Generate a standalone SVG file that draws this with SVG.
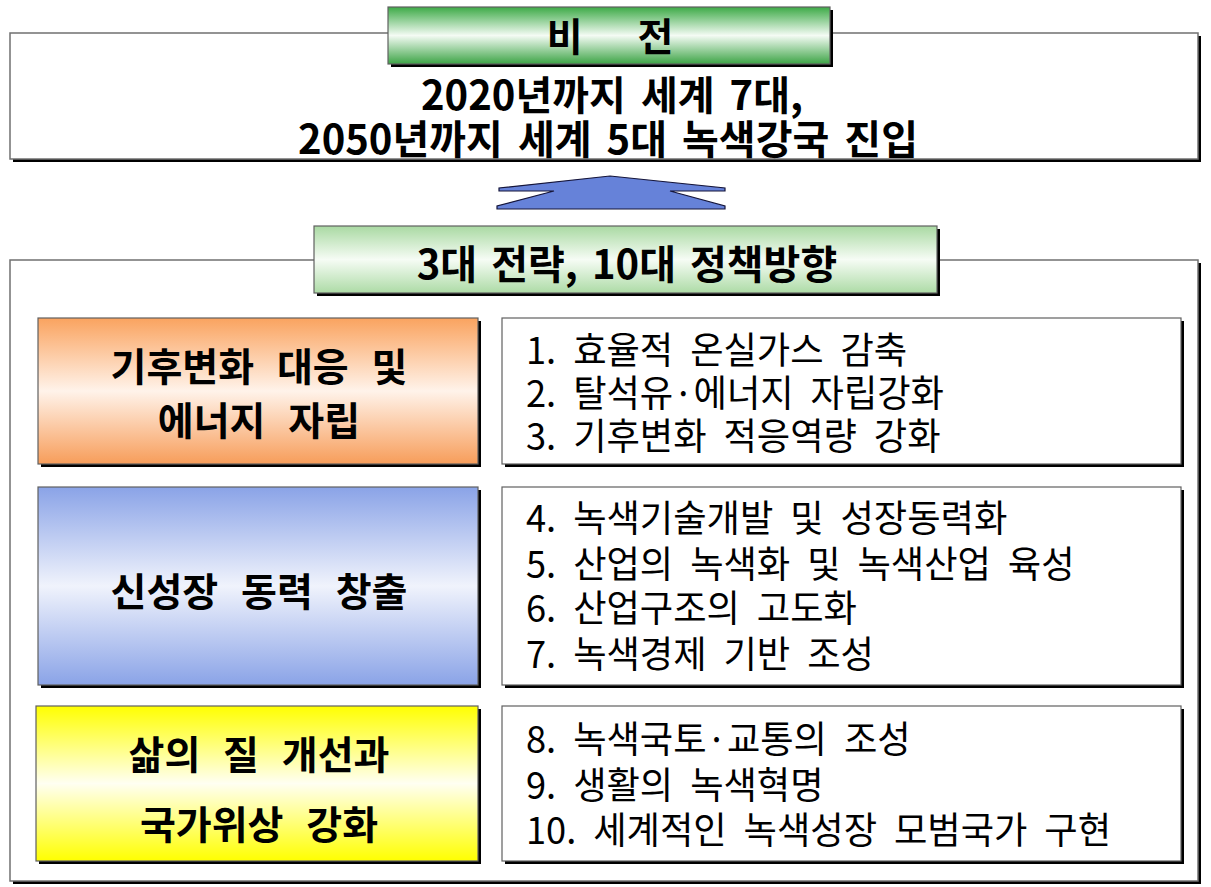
<svg xmlns="http://www.w3.org/2000/svg" width="1211" height="887" viewBox="0 0 1211 887">
<defs>
<linearGradient id="gGreen" x1="0" y1="0" x2="0" y2="1">
<stop offset="0" stop-color="#3daa47"/><stop offset="0.5" stop-color="#f4fbf4"/><stop offset="1" stop-color="#3da446"/>
</linearGradient>
<linearGradient id="gLight" x1="0" y1="0" x2="0" y2="1">
<stop offset="0" stop-color="#a9d9a2"/><stop offset="0.5" stop-color="#f6fcf5"/><stop offset="1" stop-color="#addba6"/>
</linearGradient>
<linearGradient id="gOrange" x1="0" y1="0" x2="0" y2="1">
<stop offset="0" stop-color="#faa35f"/><stop offset="0.5" stop-color="#fff3ea"/><stop offset="1" stop-color="#f79d5a"/>
</linearGradient>
<linearGradient id="gBlue" x1="0" y1="0" x2="0" y2="1">
<stop offset="0" stop-color="#8aa3e7"/><stop offset="0.5" stop-color="#f0f3fc"/><stop offset="1" stop-color="#8aa3e7"/>
</linearGradient>
<linearGradient id="gYellow" x1="0" y1="0" x2="0" y2="1">
<stop offset="0" stop-color="#ffff00"/><stop offset="0.5" stop-color="#fffff2"/><stop offset="1" stop-color="#ffff00"/>
</linearGradient>
</defs>
<style>
.sh{fill:#000}
.frame{fill:#fff;stroke:#707070;stroke-width:1.5}
.bx{stroke:#606060;stroke-width:1.2}
.b{font-family:"Noto Sans CJK KR","Noto Sans CJK SC",sans-serif;font-weight:bold;fill:#000;text-anchor:middle}
.t{font-size:40px;word-spacing:6px}
.s{font-size:39px;word-spacing:14px}
.r{font-family:"Noto Sans CJK KR","Noto Sans CJK SC",sans-serif;font-weight:normal;fill:#000;font-size:37px;word-spacing:9px}
</style>
<rect width="1211" height="887" fill="#fff"/>

<g id="vision">
<rect class="sh" x="13" y="36" width="1188" height="126"/>
<rect class="frame" x="10" y="33" width="1188" height="126"/>
<text class="b t" x="612" y="110">2020년까지 세계 7대,</text>
<text class="b t" x="608" y="154">2050년까지 세계 5대 녹색강국 진입</text>
</g>

<g id="vision-title">
<rect class="sh" x="391" y="10" width="442" height="57"/>
<rect class="bx" x="388" y="7" width="442" height="57" fill="url(#gGreen)"/>
<text class="b" x="610" y="51" font-size="39" word-spacing="46">비 전</text>
</g>

<g id="connectors">
<polygon points="610,176 725,188 725,191 670,191 725,206 725,209 497,209 497,206 554,191 499,191 499,188" fill="#6682d9" stroke="#15153a" stroke-width="1.2" stroke-linejoin="miter"/>
</g>

<g id="strategy">
<rect class="sh" x="13" y="263" width="1188" height="621"/>
<rect class="frame" x="10" y="260" width="1188" height="621"/>
</g>

<g id="strategy-title">
<rect class="sh" x="317" y="229" width="623" height="67"/>
<rect class="bx" x="314" y="226" width="623" height="67" fill="url(#gLight)"/>
<text class="b" x="627" y="279" font-size="40" word-spacing="5">3대 전략, 10대 정책방향</text>
</g>

<g id="s1">
<rect class="sh" x="41" y="321" width="440" height="146"/>
<rect class="bx" x="38" y="318" width="440" height="146" fill="url(#gOrange)"/>
<text class="b s" x="259" y="381">기후변화 대응 및</text>
<text class="b s" x="259" y="435">에너지 자립</text>
</g>

<g id="p1">
<rect class="sh" x="505" y="321" width="679" height="146"/>
<rect class="bx" x="502" y="318" width="679" height="146" fill="#fff"/>
<g transform="translate(526,0) scale(0.98,1)">
<text class="r" x="0" y="364">1. 효율적 온실가스 감축</text>
<text class="r" x="0" y="407">2. 탈석유·에너지 자립강화</text>
<text class="r" x="0" y="450">3. 기후변화 적응역량 강화</text>
</g>
</g>

<g id="s2">
<rect class="sh" x="41" y="490" width="440" height="198"/>
<rect class="bx" x="38" y="487" width="440" height="198" fill="url(#gBlue)"/>
<text class="b s" x="259" y="606">신성장 동력 창출</text>
</g>

<g id="p2">
<rect class="sh" x="505" y="490" width="679" height="198"/>
<rect class="bx" x="502" y="487" width="679" height="198" fill="#fff"/>
<g transform="translate(526,0) scale(0.98,1)">
<text class="r" x="0" y="532">4. 녹색기술개발 및 성장동력화</text>
<text class="r" x="0" y="578">5. 산업의 녹색화 및 녹색산업 육성</text>
<text class="r" x="0" y="622">6. 산업구조의 고도화</text>
<text class="r" x="0" y="668">7. 녹색경제 기반 조성</text>
</g>
</g>

<g id="s3">
<rect class="sh" x="39" y="709" width="442" height="155"/>
<rect class="bx" x="36" y="706" width="442" height="155" fill="url(#gYellow)"/>
<text class="b s" x="259" y="769">삶의 질 개선과</text>
<text class="b s" x="259" y="839">국가위상 강화</text>
</g>

<g id="p3">
<rect class="sh" x="505" y="709" width="679" height="155"/>
<rect class="bx" x="502" y="706" width="679" height="155" fill="#fff"/>
<g transform="translate(526,0) scale(0.98,1)">
<text class="r" x="0" y="753">8. 녹색국토·교통의 조성</text>
<text class="r" x="0" y="799">9. 생활의 녹색혁명</text>
<text class="r" x="0" y="844">10. 세계적인 녹색성장 모범국가 구현</text>
</g>
</g>
</svg>
